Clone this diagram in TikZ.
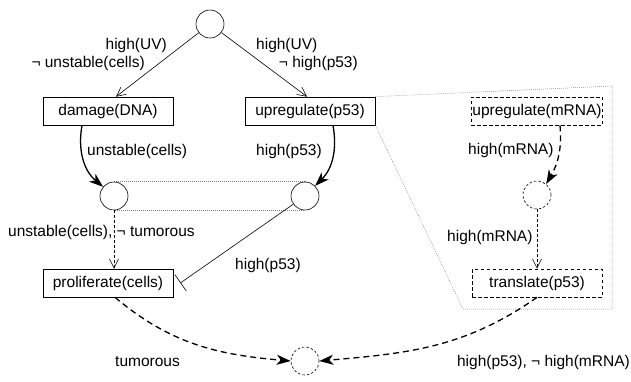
\documentclass[tikz,border=0pt]{standalone}
\usepackage{fontspec}
\setmainfont{Liberation Sans}
\usetikzlibrary{arrows.meta,backgrounds}
\begin{document}
\begin{tikzpicture}[x=1pt,y=-1pt,
  every node/.style={font=\fontsize{15.5}{18}\selectfont},
  st/.style={circle,draw,fill=white,minimum size=28pt,inner sep=0pt,line width=0.6pt},
  dst/.style={st,dash pattern=on 2.5pt off 2pt},
  act/.style={rectangle,draw,fill=white,minimum width=130pt,minimum height=28pt,inner xsep=1pt,inner ysep=0pt,line width=0.7pt},
  dact/.style={act,dash pattern=on 3.5pt off 2.5pt},
  lab/.style={inner sep=0pt},
  thin/.style={line width=0.6pt,-{Straight Barb[length=9pt,width=9pt]}},
  dthin/.style={thin,dash pattern=on 3pt off 2pt},
  thick/.style={line width=1.3pt,-{Stealth[length=14pt,width=10pt,inset=4pt]}},
  dthick/.style={thick,dash pattern=on 6pt off 4pt},
  fine/.style={line width=0.5pt,gray,dash pattern=on 0.8pt off 1.2pt}]
\useasboundingbox (0,0) rectangle (631,381);
\node[st] (t) at (210,24) {};
\node[act] (d) at (108,111) {damage(DNA)};
\node[act] (u) at (310,111) {upregulate(p53)};
\node[st] (cl) at (114,196) {};
\node[st] (cr) at (305,196) {};
\node[act] (p) at (108,283) {proliferate(cells)};
\node[dst] (b) at (305,361) {};
\node[dact] (m) at (537,111) {upregulate(mRNA)};
\node[dst] (cm) at (537,195) {};
\node[dact] (tr) at (537,283) {translate(p53)};
\begin{pgfonlayer}{background}
\draw[fine] (cl.north) rectangle (cr.south);
\draw[fine] (u.north east) -- (612,86) -- (612,309) -- (463,309) -- (u.south east);
\end{pgfonlayer}
\draw[thin] (t) -- ([xshift=8pt]d.north);
\draw[thin] (t) -- ([xshift=-3pt]u.north);
\draw[thick] ([xshift=-26pt]d.south) to[out=-100,in=140] (cl.140);
\draw[thick] ([xshift=23pt]u.south) to[out=-80,in=45] (cr.45);
\draw[dthick] ([xshift=23pt]m.south) to[out=-85,in=60] (cm.50);
\draw[dthin] (cl.south) -- (cl.south |- p.north);
\draw[line width=0.6pt,-{Bar[width=20pt]}] (cr) -- ([xshift=7pt]p.east);
\draw[dthin] (cm.south) -- (tr.north);
\draw[dthick] ([xshift=7pt]p.south) to[out=-40,in=175] (b.west);
\draw[dthick] (tr.south) to[out=-145,in=5] (b.east);
\node[lab,anchor=east] at (167,45) {high(UV)};
\node[lab,anchor=east] at (145,63) {¬ unstable(cells)};
\node[lab,anchor=west] at (256,45) {high(UV)};
\node[lab,anchor=east] at (358,63) {¬ high(p53)};
\node[lab,anchor=west] at (87,151) {unstable(cells)};
\node[lab,anchor=west] at (256,151) {high(p53)};
\node[lab,anchor=west] at (8,232) {unstable(cells), ¬ tumorous};
\node[lab,anchor=west] at (235,265) {high(p53)};
\node[lab,anchor=west] at (115,362) {tumorous};
\node[lab,anchor=east] at (630,362) {high(p53), ¬ high(mRNA)};
\node[lab,anchor=west] at (468,150) {high(mRNA)};
\node[lab,anchor=west] at (447,237) {high(mRNA)};
\end{tikzpicture}
\end{document}
